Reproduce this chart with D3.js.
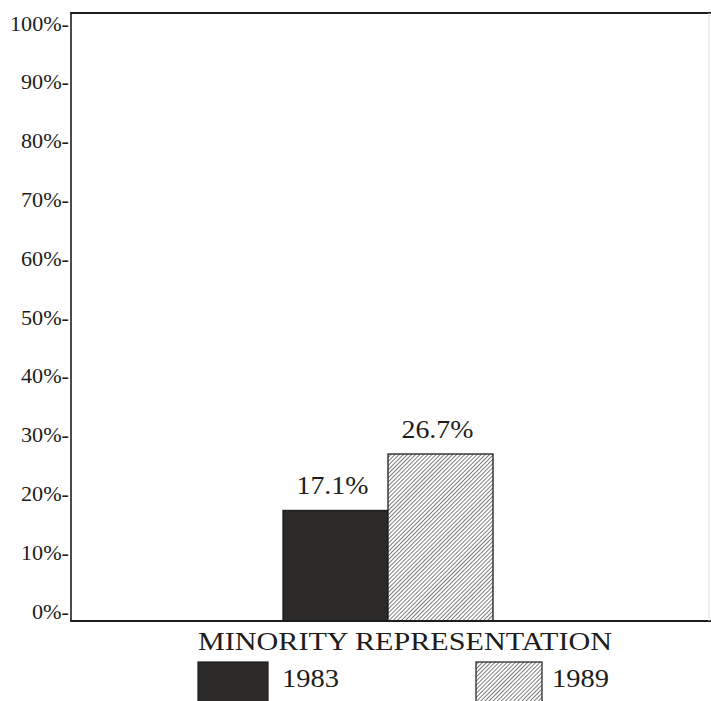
<!DOCTYPE html>
<html>
<head>
<meta charset="utf-8">
<script src="https://cdn.jsdelivr.net/npm/d3@7"></script>
<style>
  html, body { margin: 0; padding: 0; background: #fff; }
  svg { display: block; }
  text { font-family: "Liberation Serif", "Times New Roman", serif; fill: #1e1d1b; }
</style>
</head>
<body>
<svg id="chart" width="711" height="701"></svg>
<script>
// Minority representation, 1983 vs 1989
const years = ["1983", "1989"];
const shares = [17.1, 26.7];
const tickValues = [0, 10, 20, 30, 40, 50, 60, 70, 80, 90, 100];
const axisTitle = "MINORITY REPRESENTATION";

const FONT = '"Liberation Serif", "Times New Roman", serif';
const svg = d3.select("#chart");
const frame = { left: 71, top: 13, right: 712, bottom: 621 };

// fine diagonal hatch for the 1989 bar
const HP = 2.9;
const defs = svg.append("defs");
const pat = defs.append("pattern")
  .attr("id", "hatch")
  .attr("patternUnits", "userSpaceOnUse")
  .attr("width", HP).attr("height", HP)
  .attr("patternTransform", "rotate(45)");
pat.append("rect").attr("width", HP).attr("height", HP).attr("fill", "#fff");
pat.append("line")
  .attr("x1", 0).attr("y1", 0).attr("x2", 0).attr("y2", HP)
  .attr("stroke", "#2a2927").attr("stroke-width", 1.2);

const fills = { "1983": "#2b2a28", "1989": "url(#hatch)" };

const y = d3.scaleLinear().domain([0, 100]).range([611, 23]);
const x = d3.scaleBand().domain(years).range([283, 493]).padding(0);

// y axis labels (dash is part of the label)
const yAxis = d3.axisLeft(y)
  .tickValues(tickValues)
  .tickSize(0)
  .tickPadding(0)
  .tickFormat(d => d + "%-");
const gy = svg.append("g")
  .attr("transform", `translate(${frame.left - 2},0)`)
  .call(yAxis);
gy.select(".domain").remove();
gy.selectAll("text")
  .style("font-family", FONT)
  .style("font-size", "21px")
  .attr("fill", "#1e1d1b")
  .attr("dy", "0.34em")
  .attr("textLength", d => (d === 100 ? 59 : d === 0 ? 37 : 48))
  .attr("lengthAdjust", "spacingAndGlyphs");

// bars rise from the frame baseline
const rows = years.map((yr, i) => ({ yr, v: shares[i] }));
svg.append("g").selectAll("rect")
  .data(rows)
  .join("rect")
  .attr("x", d => x(d.yr))
  .attr("y", d => y(d.v))
  .attr("width", x.bandwidth())
  .attr("height", d => frame.bottom - y(d.v))
  .attr("fill", d => fills[d.yr])
  .attr("stroke", "#1e1d1b")
  .attr("stroke-width", 1.3);

// value labels
svg.append("g").selectAll("text")
  .data(rows)
  .join("text")
  .attr("x", d => x(d.yr) + x.bandwidth() / 2 - 3)
  .attr("y", d => y(d.v) - 16)
  .attr("text-anchor", "middle")
  .style("font-size", "25px")
  .attr("textLength", 72)
  .attr("lengthAdjust", "spacingAndGlyphs")
  .text(d => d.v.toFixed(1) + "%");

// frame: left, top, bottom
const fr = svg.append("g").attr("fill", "none").attr("stroke", "#1e1d1b");
fr.append("line").attr("x1", frame.left).attr("x2", frame.left)
  .attr("y1", frame.top).attr("y2", frame.bottom).attr("stroke-width", 1.6);
fr.append("line").attr("x1", frame.left - 0.8).attr("x2", frame.right)
  .attr("y1", frame.top).attr("y2", frame.top).attr("stroke-width", 1.8);
fr.append("line").attr("x1", frame.left - 0.8).attr("x2", frame.right)
  .attr("y1", frame.bottom).attr("y2", frame.bottom).attr("stroke-width", 1.8);
fr.append("line").attr("x1", 709).attr("x2", 709)
  .attr("y1", frame.top).attr("y2", frame.bottom)
  .attr("stroke", "#dcdcdc").attr("stroke-width", 1);

// category title
svg.append("text")
  .attr("x", 405).attr("y", 650)
  .attr("text-anchor", "middle")
  .style("font-size", "26px")
  .attr("textLength", 414)
  .attr("lengthAdjust", "spacingAndGlyphs")
  .text(axisTitle);

// legend
const legendPos = [
  { yr: "1983", sx: 198, sw: 70, tx: 282 },
  { yr: "1989", sx: 476, sw: 66, tx: 552 }
];
const lg = svg.append("g");
lg.selectAll("rect").data(legendPos).join("rect")
  .attr("x", d => d.sx).attr("y", 662)
  .attr("width", d => d.sw).attr("height", 45)
  .attr("fill", d => fills[d.yr])
  .attr("stroke", "#1e1d1b").attr("stroke-width", 1.2);
lg.selectAll("text").data(legendPos).join("text")
  .attr("x", d => d.tx).attr("y", 687)
  .style("font-size", "25px")
  .attr("textLength", 57)
  .attr("lengthAdjust", "spacingAndGlyphs")
  .text(d => d.yr);
</script>
</body>
</html>
